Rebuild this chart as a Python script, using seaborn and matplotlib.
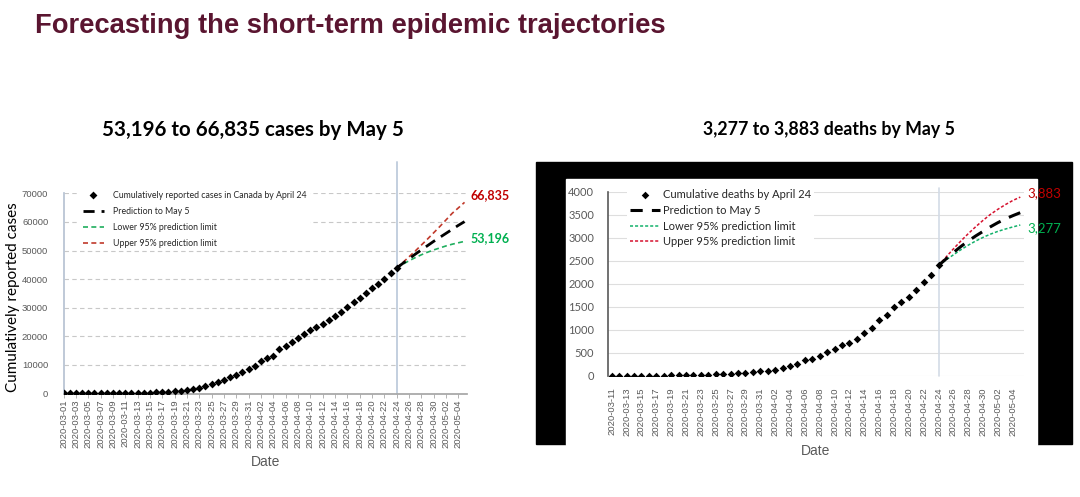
import matplotlib
matplotlib.use("Agg")
import matplotlib.pyplot as plt
import matplotlib.patches as mpatches
import seaborn as sns
import pandas as pd

## data: cases (Canada), from 2020-03-01
case_dates = pd.date_range("2020-03-01", "2020-05-05")
cases_obs = [24, 27, 30, 33, 37, 49, 54, 64, 77, 79,
             108, 117, 193, 198, 252, 415, 478, 657, 800, 943,
             1277, 1469, 2091, 2792, 3409, 4043, 4757, 5655, 6320, 7398,
             8527, 9560, 11284, 12375, 12978, 15496, 16563, 17897, 19291, 20765,
             22148, 23318, 24383, 25680, 27035, 28379, 30106, 31927, 33383, 35056,
             36829, 38422, 40190, 42110, 43888]
cases_pred = [43888, 45500, 47100, 48700, 50200, 51700, 53200, 54600, 56000, 57400, 58800, 60100]
cases_low = [43888, 45200, 46400, 47500, 48500, 49400, 50200, 50900, 51600, 52200, 52700, 53196]
cases_up = [43888, 45800, 47800, 49800, 51900, 54000, 56200, 58400, 60700, 63000, 64900, 66835]

## data: deaths, from 2020-03-11
death_dates = pd.date_range("2020-03-11", "2020-05-05")
deaths_obs = [1, 1, 1, 1, 1, 4, 8, 9, 12, 19,
              21, 24, 24, 27, 36, 39, 54, 62, 66, 89,
              101, 109, 139, 179, 218, 259, 339, 375, 435, 520,
              580, 670, 725, 800, 930, 1040, 1215, 1330, 1500, 1610,
              1725, 1870, 2050, 2190, 2400]
deaths_pred = [2400, 2540, 2680, 2810, 2930, 3040, 3140, 3240, 3330, 3410, 3480, 3545]
deaths_low = [2400, 2520, 2630, 2740, 2840, 2930, 3010, 3080, 3140, 3190, 3235, 3277]
deaths_up = [2400, 2580, 2760, 2930, 3090, 3240, 3380, 3510, 3620, 3720, 3810, 3883]

sns.set_theme(style="white")
plt.rcParams["font.family"] = ["Lato", "DejaVu Sans"]

W, H = 1080, 497
fig = plt.figure(figsize=(W / 100, H / 100), dpi=100)

def box(x0, y0, x1, y1):
    # pixel box (top-left origin) -> figure fraction rect
    return [x0 / W, 1 - y1 / H, (x1 - x0) / W, (y1 - y0) / H]

RED, GREEN = "#c00000", "#00b050"
GRAY = "#595959"

fig.text(35 / W, 1 - 26 / H, "Forecasting the short-term epidemic trajectories",
         family="Liberation Sans", weight="bold", fontsize=19.7, color="#5a1530", va="center")
fig.text(253 / W, 1 - 130 / H, "53,196 to 66,835 cases by May 5",
         weight="bold", fontsize=14.8, ha="center", va="center", color="black")
fig.text(829 / W, 1 - 130 / H, "3,277 to 3,883 deaths by May 5",
         weight="bold", fontsize=12.8, ha="center", va="center", color="black")

# black frame behind the deaths chart
fig.patches.append(mpatches.Rectangle((536 / W, 1 - 444 / H), 536 / W, 282 / H,
                                      transform=fig.transFigure, color="black", zorder=-5))
fig.patches.append(mpatches.Rectangle((566 / W, 1 - 445 / H), 471 / W, 266 / H,
                                      transform=fig.transFigure, color="white", zorder=-4))

# ---------------- cases ----------------
ax1 = fig.add_axes(box(63.6, 193.3, 467, 393.5))
ax1.patch.set_alpha(0)
n_obs = len(cases_obs)
xo = list(range(n_obs))
xp = list(range(n_obs - 1, len(case_dates)))
ax1.axvline(n_obs - 1, ymin=0, ymax=(393.5 - 162) / 200.2, color="#c3cfdf", lw=1.4,
            clip_on=False, zorder=1)
sns.lineplot(x=xp, y=cases_up, color="#c0392b", lw=1.2, ax=ax1, label="Upper 95% prediction limit")
ax1.lines[-1].set_dashes([3, 2])
sns.lineplot(x=xp, y=cases_low, color="#1fae5e", lw=1.2, ax=ax1, label="Lower 95% prediction limit")
ax1.lines[-1].set_dashes([3, 2])
sns.lineplot(x=xp, y=cases_pred, color="black", lw=2.0, ax=ax1, label="Prediction to May 5")
ax1.lines[-1].set_dashes([4, 2.5])
sns.scatterplot(x=xo, y=cases_obs, marker="D", s=16, color="black", linewidth=0, ax=ax1,
                label="Cumulatively reported cases in Canada by April 24", zorder=5)
ax1.set_xlim(0, 65.4)
ax1.set_ylim(0, 70000)
ax1.set_yticks(range(0, 70001, 10000))
ax1.yaxis.grid(True, ls=(0, (4, 3)), color="#c8c8c8", lw=0.8)
ax1.set_axisbelow(True)
ax1.set_xticks(range(0, len(case_dates), 2))
ax1.set_xticklabels([d.strftime("%Y-%m-%d") for d in case_dates[::2]], rotation=90,
                    family="Liberation Sans", fontsize=6.8, color=GRAY)
ax1.tick_params(axis="x", length=3, width=0.6, color="#a6a6a6", pad=1, bottom=True)
ax1.tick_params(axis="y", length=0, pad=11, labelsize=6.8, labelcolor=GRAY)
for t in ax1.get_yticklabels():
    t.set_family("Liberation Sans")
for s in ["top", "right"]:
    ax1.spines[s].set_visible(False)
ax1.spines["left"].set_color("#b7c3d3")
ax1.spines["bottom"].set_color("#a6a6a6")
ax1.set_xlabel("Date", family="Liberation Sans", fontsize=10, color=GRAY, labelpad=5)
ax1.set_ylabel("")
fig.text(13 / W, 1 - 297 / H, "Cumulatively reported cases", rotation=90,
         fontsize=11, ha="center", va="center", color="black")
h, l = ax1.get_legend_handles_labels()
order = [3, 2, 1, 0]
leg1 = ax1.legend([h[i] for i in order], [l[i] for i in order], loc="upper left",
                  bbox_to_anchor=(80 / W, 1 - 188 / H), bbox_transform=fig.transFigure,
                  fontsize=6.3, frameon=True, facecolor="white", edgecolor="none",
                  framealpha=1, fancybox=False, handlelength=2.4, handletextpad=1.1,
                  labelspacing=0.8, borderpad=0.3, borderaxespad=0)
leg1.set_zorder(10)
ax1.text(65.9, 69300, "66,835", color=RED, weight="bold", fontsize=9, va="center",
         ha="left", clip_on=False)
ax1.text(65.9, 54300, "53,196", color=GREEN, weight="bold", fontsize=9, va="center",
         ha="left", clip_on=False)

# ---------------- deaths ----------------
ax2 = fig.add_axes(box(608, 191.7, 1024, 376))
ax2.patch.set_alpha(0)
n_obs2 = len(deaths_obs)
xo2 = list(range(n_obs2))
xp2 = list(range(n_obs2 - 1, len(death_dates)))
ax2.axvline(n_obs2 - 1, ymin=0, ymax=1.02, color="#d3dbe6", lw=1.2, clip_on=False, zorder=1)
sns.lineplot(x=xp2, y=deaths_up, color="#d6122f", lw=1.1, ax=ax2, label="Upper 95% prediction limit")
ax2.lines[-1].set_dashes([2, 1.3])
sns.lineplot(x=xp2, y=deaths_low, color="#13b26b", lw=1.1, ax=ax2, label="Lower 95% prediction limit")
ax2.lines[-1].set_dashes([2, 1.3])
sns.lineplot(x=xp2, y=deaths_pred, color="black", lw=2.2, ax=ax2, label="Prediction to May 5")
ax2.lines[-1].set_dashes([4, 3])
sns.scatterplot(x=xo2, y=deaths_obs, marker="D", s=15, color="black", linewidth=0, ax=ax2,
                label="Cumulative deaths by April 24", zorder=5)
ax2.set_xlim(-0.5, 55.5)
ax2.set_ylim(0, 4000)
ax2.set_yticks(range(0, 4001, 500))
ax2.yaxis.grid(True, color="#dedede", lw=0.8)
ax2.set_axisbelow(True)
ax2.set_xticks(range(0, len(death_dates), 2))
ax2.set_xticklabels([d.strftime("%Y-%m-%d") for d in death_dates[::2]], rotation=90,
                    family="Liberation Sans", fontsize=6.8, color=GRAY)
ax2.tick_params(axis="x", length=0, pad=8)
ax2.tick_params(axis="y", length=0, pad=10, labelsize=8, labelcolor=GRAY)
for s in ["top", "right", "bottom"]:
    ax2.spines[s].set_visible(False)
ax2.spines["left"].set_color(GRAY)
ax2.spines["left"].set_linewidth(1.2)
ax2.set_xlabel("Date", family="Liberation Sans", fontsize=10, color=GRAY, labelpad=6)
ax2.set_ylabel("")
h, l = ax2.get_legend_handles_labels()
leg2 = ax2.legend([h[i] for i in order], [l[i] for i in order], loc="upper left",
                  bbox_to_anchor=(627 / W, 1 - 186 / H), bbox_transform=fig.transFigure,
                  fontsize=8, frameon=True, facecolor="white", edgecolor="none",
                  framealpha=1, fancybox=False, handlelength=2.7, handletextpad=0.2,
                  labelspacing=0.42, borderpad=0.3, borderaxespad=0)
leg2.set_zorder(10)
ax2.text(56.0, 3960, "3,883", color=RED, fontsize=9.5, va="center", ha="left", clip_on=False)
ax2.text(56.0, 3200, "3,277", color=GREEN, fontsize=9.5, va="center", ha="left", clip_on=False)

fig.savefig("out.png", dpi=100)
